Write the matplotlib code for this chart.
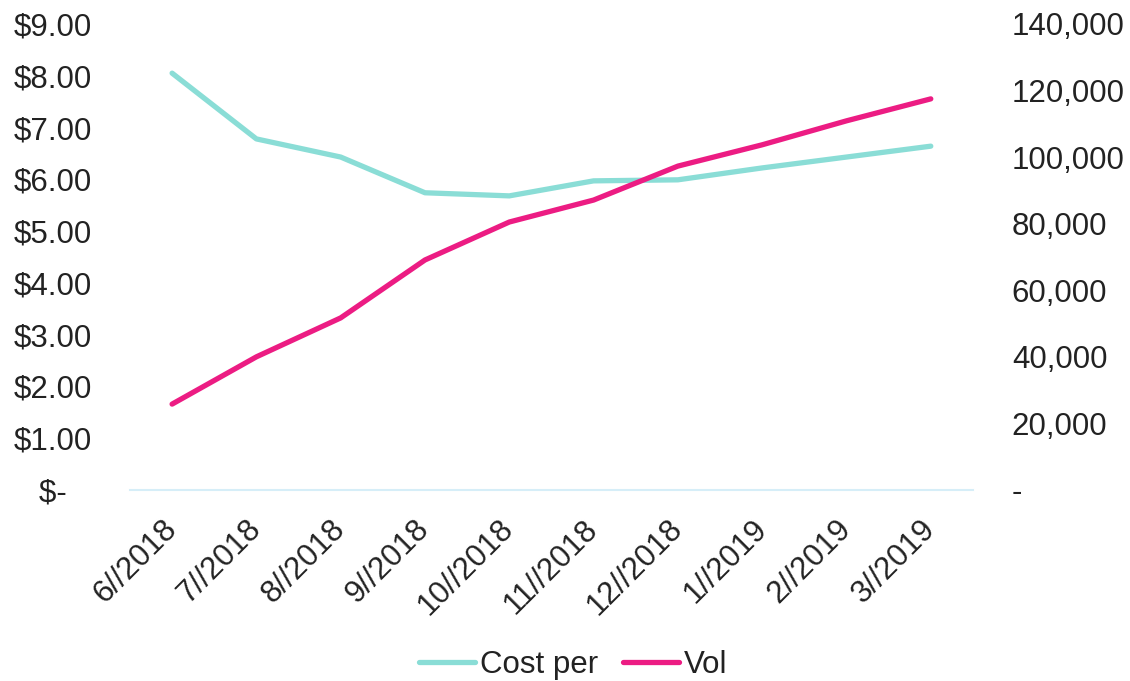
import matplotlib
matplotlib.use("Agg")
import matplotlib.pyplot as plt
from matplotlib.ticker import FuncFormatter

plt.rcParams['font.family'] = ['Liberation Sans', 'DejaVu Sans']

months = ["6//2018", "7//2018", "8//2018", "9//2018", "10//2018", "11//2018",
          "12//2018", "1//2019", "2//2019", "3//2019"]
cost_per = [8.05, 6.78, 6.43, 5.74, 5.68, 5.97, 5.99, 6.22, 6.43, 6.64]
vol = [25800, 40000, 51700, 69100, 80500, 87100, 97300, 103700, 110900, 117500]

left_ticks = [0, 1, 2, 3, 4, 5, 6, 7, 8, 9]
right_ticks = [0, 20000, 40000, 60000, 80000, 100000, 120000, 140000]

teal = "#8ADDD6"
pink = "#EC1C83"
txt = "#222222"

fig = plt.figure(figsize=(11.3, 6.81), dpi=100)
ax = fig.add_axes([0.115, 0.2805, 0.746, 0.6843])
ax2 = ax.twinx()

x = list(range(len(months)))
l1, = ax.plot(x, cost_per, color=teal, lw=3.8, solid_capstyle='round', label="Cost per")
l2, = ax2.plot(x, vol, color=pink, lw=3.8, solid_capstyle='round', label="Vol")

ax.set_xlim(-0.5, len(months) - 0.5)
ax.set_ylim(0, 9)
ax2.set_ylim(0, 140000)
ax.set_yticks(left_ticks)
ax2.set_yticks(right_ticks)

ax.yaxis.set_major_formatter(FuncFormatter(lambda v, p: "$-   " if v == 0 else f"${v:.2f}"))
ax2.yaxis.set_major_formatter(FuncFormatter(lambda v, p: "-" if v == 0 else f"{int(v):,}"))

ax.set_xticks(x)
ax.set_xticklabels(months, rotation=45, ha='right', va='center', rotation_mode='anchor')

for a in (ax, ax2):
    for s in a.spines.values():
        s.set_visible(False)
    a.tick_params(length=0, labelsize=22.5, colors=txt)
ax.tick_params(axis='y', pad=27)
ax2.tick_params(axis='y', pad=28)
ax.tick_params(axis='x', pad=25)
ax.spines['bottom'].set_visible(True)
ax.spines['bottom'].set_color("#D6EEF8")
ax.spines['bottom'].set_linewidth(1.5)

fig.legend(handles=[l1, l2], loc='center', bbox_to_anchor=(0.507, 1 - 665 / 681), ncol=2,
           frameon=False, fontsize=22.5, handlelength=1.8, handletextpad=0.15,
           columnspacing=0.8, labelcolor=txt, borderpad=0)

fig.savefig("out.png", dpi=100)
